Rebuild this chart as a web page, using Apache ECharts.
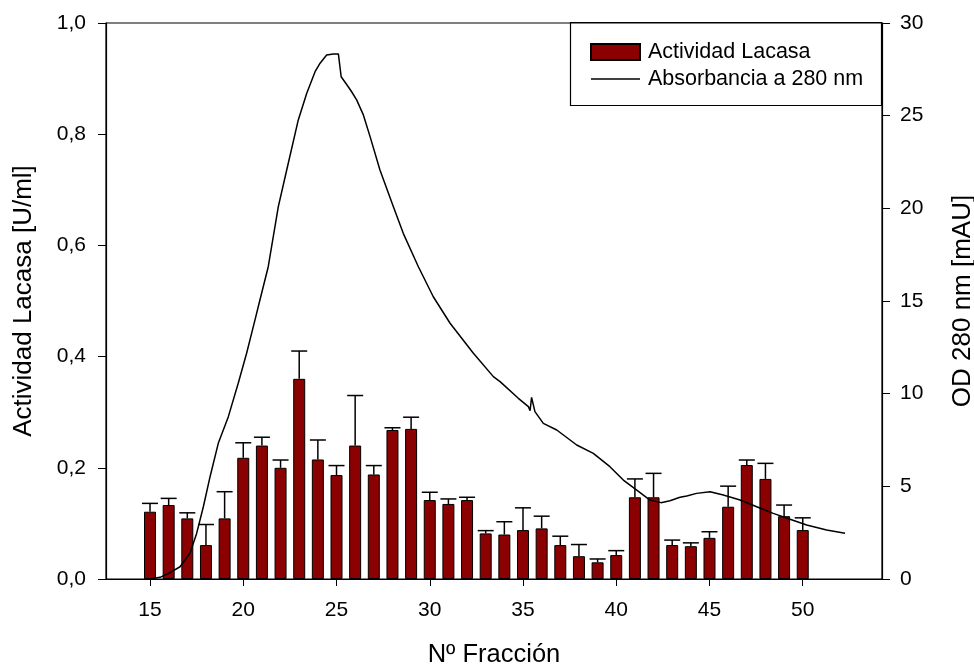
<!DOCTYPE html>
<html>
<head>
<meta charset="utf-8">
<script src="https://cdn.jsdelivr.net/npm/echarts@6/dist/echarts.min.js"></script>
<style>html,body{margin:0;padding:0;background:#fff}#c{width:974px;height:666px}</style>
</head>
<body>
<div id="c"></div>
<script>
var fractions = [15,16,17,18,19,20,21,22,23,24,25,26,27,28,29,30,31,32,33,34,35,36,37,38,39,40,41,42,43,44,45,46,47,48,49,50];
var activity = [0.121,0.133,0.109,0.061,0.109,0.218,0.240,0.200,0.360,0.215,0.187,0.240,0.188,0.268,0.270,0.142,0.135,0.142,0.082,0.080,0.088,0.091,0.061,0.041,0.030,0.043,0.147,0.147,0.061,0.059,0.074,0.130,0.205,0.180,0.113,0.088];
var activityErr = [0.015,0.012,0.010,0.037,0.048,0.027,0.015,0.014,0.050,0.035,0.017,0.090,0.016,0.004,0.021,0.014,0.009,0.005,0.005,0.023,0.040,0.022,0.016,0.021,0.006,0.008,0.033,0.043,0.009,0.006,0.011,0.037,0.009,0.028,0.020,0.022];
var absFraction = [15.0,15.54,16.07,16.61,17.14,17.5,17.86,18.22,18.66,19.2,19.73,20.18,20.63,20.83,21.34,21.88,22.33,22.95,23.4,23.85,24.12,24.47,24.83,25.1,25.25,25.28,25.63,25.81,26.08,26.44,26.8,27.33,28.05,28.58,29.39,30.19,31.09,32.34,33.41,33.77,34.75,35.29,35.38,35.46,35.55,35.64,36.09,36.81,37.88,38.77,39.66,40.38,41.1,41.81,42.4,42.88,43.42,43.78,44.31,45.03,45.74,46.64,47.53,48.42,49.32,50.21,51.28,52.27];
var absValue = [0.0,0.09,0.34,0.66,1.39,2.46,3.9,5.52,7.32,8.76,10.56,12.18,13.98,14.8,16.85,20.09,22.07,24.77,26.2,27.37,27.83,28.27,28.33,28.33,27.1,27.02,26.56,26.29,25.85,25.04,23.87,22.07,20.09,18.65,16.85,15.23,13.8,12.18,10.92,10.65,9.75,9.3,9.08,9.8,9.7,9.03,8.4,8.04,7.23,6.78,6.06,5.34,4.8,4.26,4.12,4.22,4.41,4.48,4.62,4.71,4.53,4.26,3.9,3.54,3.22,2.91,2.64,2.47];
var xTicks = [15,20,25,30,35,40,45,50];

var FONT = "'Liberation Sans', Arial, sans-serif";
var chart = echarts.init(document.getElementById('c'));
var barData = fractions.map(function(f,i){return [f, activity[i]];});
var errData = fractions.map(function(f,i){return [f, activity[i], activity[i]+activityErr[i]];});
var lineData = absFraction.map(function(f,i){return [f, absValue[i]];});

chart.setOption({
  animation: false,
  backgroundColor: '#fff',
  grid: {left:106, right:92, top:23, bottom:87, outerBoundsMode:'none', containLabel:false, show:true, borderColor:'#000', borderWidth:1.2, backgroundColor:'transparent'},
  legend: {
    left: 585, top: 36, orient: 'vertical', itemWidth: 49, itemHeight: 16, itemGap: 5,
    textStyle: {fontFamily: FONT, fontSize: 21.5, color:'#000', lineHeight: 22, padding:[0,0,0,3]},
    data: [
      {name:'Actividad Lacasa', icon:'rect'},
      {name:'Absorbancia a 280 nm', icon:'path://M0,0 L49,0 L49,1.3 L0,1.3 Z', itemStyle:{color:'#000', borderWidth:0}}
    ]
  },
  graphic: [{type:'rect', shape:{x:570.5, y:22.5, width:311, height:83}, style:{fill:'#fff', stroke:'#000', lineWidth:1.2}, z:-1}],
  xAxis: {
    type:'value', min:12.64, max:54.25,
    name:'Nº Fracción', nameLocation:'middle', nameGap:63,
    nameTextStyle:{fontFamily:FONT, fontSize:25.5, color:'#000'},
    axisLine:{show:true, lineStyle:{color:'#000', width:1.2}},
    axisTick:{show:true, inside:false, length:7, lineStyle:{color:'#000'}, customValues:xTicks},
    axisLabel:{fontFamily:FONT, fontSize:21, color:'#000', margin:21, customValues:xTicks},
    splitLine:{show:false}
  },
  yAxis: [{
    type:'value', min:0, max:1, interval:0.2, position:'left',
    name:'Actividad Lacasa [U/ml]', nameLocation:'middle', nameGap:69,
    nameTextStyle:{fontFamily:FONT, fontSize:26, color:'#000'},
    axisLine:{show:true, lineStyle:{color:'#000', width:1.2}},
    axisTick:{show:true, length:8, lineStyle:{color:'#000'}},
    axisLabel:{fontFamily:FONT, fontSize:21, color:'#000', margin:20, formatter:function(v){return v.toFixed(1).replace('.',',');}},
    splitLine:{show:false}
  },{
    type:'value', min:0, max:30, interval:5, position:'right',
    name:'OD 280 nm [mAU]', nameLocation:'middle', nameGap:68,
    nameTextStyle:{fontFamily:FONT, fontSize:26, color:'#000'},
    axisLine:{show:true, lineStyle:{color:'#000', width:1.2}},
    axisTick:{show:true, length:8, lineStyle:{color:'#000'}},
    axisLabel:{fontFamily:FONT, fontSize:21, color:'#000', margin:18},
    splitLine:{show:false}
  }],
  series: [{
    name:'Actividad Lacasa', type:'bar', yAxisIndex:0, barWidth:12, data:barData,
    itemStyle:{color:'#8b0000', borderColor:'#000', borderWidth:1}, z:2
  },{
    name:'errors', type:'custom', yAxisIndex:0, data:errData, z:3, silent:true,
    renderItem:function(params, api){
      var x = api.value(0);
      var p0 = api.coord([x, api.value(1)]);
      var p1 = api.coord([x, api.value(2)]);
      return {type:'group', children:[
        {type:'line', shape:{x1:p0[0], y1:p0[1], x2:p1[0], y2:p1[1]}, style:{stroke:'#000', lineWidth:1.5}},
        {type:'line', shape:{x1:p1[0]-8, y1:p1[1], x2:p1[0]+8, y2:p1[1]}, style:{stroke:'#000', lineWidth:1.5}}
      ]};
    }
  },{
    name:'Absorbancia a 280 nm', type:'line', yAxisIndex:1, data:lineData, symbol:'none', showSymbol:false,
    lineStyle:{color:'#000', width:1.5}, itemStyle:{color:'#000'}, z:4
  }]
});
</script>
</body>
</html>
